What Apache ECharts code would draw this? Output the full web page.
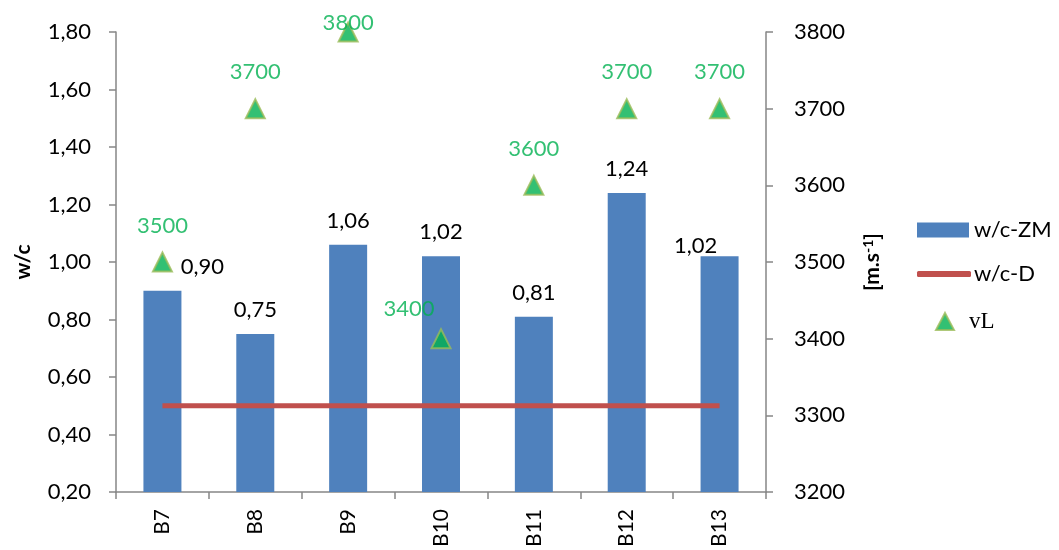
<!DOCTYPE html>
<html>
<head>
<meta charset="utf-8">
<script src="https://cdn.jsdelivr.net/npm/echarts@6/dist/echarts.min.js"></script>
<style>html,body{margin:0;padding:0;background:#fff}#c{width:1059px;height:550px}</style>
</head>
<body>
<div id="c"></div>
<script>
const categories = ['B7', 'B8', 'B9', 'B10', 'B11', 'B12', 'B13'];
const wcZM = [0.90, 0.75, 1.06, 1.02, 0.81, 1.24, 1.02];
const wcD = [0.50, 0.50, 0.50, 0.50, 0.50, 0.50, 0.50];
const vL = [3500, 3700, 3800, 3400, 3600, 3700, 3700];
const leftTicks = [0.2, 1.8, 0.2];   // min, max, interval
const rightTicks = [3200, 3800, 100];

const FONT = 'Lato';
const FS = 22;
const fmt = v => v.toFixed(2).replace('.', ',');

const barLabelOffsets = { 0: [40, 0], 6: [-24, 14] };
const vLLabelOffsets = { 2: [0, 27], 3: [-32, 7] };

const legendText = { fontSize: FS, color: '#000', fontFamily: FONT };

const chart = echarts.init(document.getElementById('c'));
chart.setOption({
  animation: false,
  textStyle: { fontFamily: FONT },
  grid: { left: 116, right: 293, top: 32, bottom: 58, containLabel: false },
  legend: [
    {
      orient: 'vertical', left: 912, top: 214,
      itemWidth: 52, itemHeight: 15,
      textStyle: Object.assign({ padding: [0, 0, 0, 0] }, legendText),
      data: [{ name: 'w/c-ZM', icon: 'rect' }]
    },
    {
      orient: 'vertical', left: 912, top: 258,
      itemWidth: 54, itemHeight: 6,
      textStyle: Object.assign({ padding: [0, 0, 0, -2] }, legendText),
      data: [{ name: 'w/c-D', icon: 'roundRect' }]
    },
    {
      orient: 'vertical', left: 930, top: 305,
      itemWidth: 18, itemHeight: 17,
      textStyle: { fontSize: 23, color: '#000', fontFamily: 'Liberation Serif', padding: [0, 0, 0, 10] },
      data: [{ name: 'vL', icon: 'triangle' }]
    }
  ],
  xAxis: {
    type: 'category',
    data: categories,
    boundaryGap: true,
    axisLine: { lineStyle: { color: '#868686', width: 1.5 } },
    axisTick: { show: true, alignWithLabel: false, length: 7, lineStyle: { color: '#868686', width: 1.5 } },
    axisLabel: { rotate: 90, fontSize: 21, color: '#000', margin: 17, fontFamily: FONT },
    splitLine: { show: false }
  },
  yAxis: [
    {
      type: 'value',
      min: leftTicks[0], max: leftTicks[1], interval: leftTicks[2],
      name: 'w/c',
      nameLocation: 'middle',
      nameRotate: 90,
      nameGap: 82,
      nameTextStyle: { fontSize: 21, fontWeight: 'bold', color: '#000', fontFamily: FONT },
      axisLine: { show: true, lineStyle: { color: '#868686', width: 1.5 } },
      axisTick: { show: true, length: 7, lineStyle: { color: '#868686', width: 1.5 } },
      axisLabel: { fontSize: FS, color: '#000', margin: 25, formatter: v => fmt(v), fontFamily: FONT },
      splitLine: { show: false }
    },
    {
      type: 'value',
      position: 'right',
      min: rightTicks[0], max: rightTicks[1], interval: rightTicks[2],
      name: '[m.s{sup|-1}]',
      nameLocation: 'middle',
      nameRotate: 90,
      nameGap: 95,
      nameTextStyle: {
        fontSize: 21, fontWeight: 'bold', color: '#000', fontFamily: FONT,
        rich: { sup: { fontSize: 14, fontWeight: 'bold', color: '#000', fontFamily: FONT, verticalAlign: 'top', lineHeight: 22, padding: [0, 0, 8, 0] } }
      },
      axisLine: { show: true, lineStyle: { color: '#868686', width: 1.5 } },
      axisTick: { show: true, length: 7, lineStyle: { color: '#868686', width: 1.5 } },
      axisLabel: { fontSize: FS, color: '#000', margin: 28, fontFamily: FONT, formatter: v => String(v) },
      splitLine: { show: false }
    }
  ],
  series: [
    {
      name: 'w/c-ZM',
      type: 'bar',
      yAxisIndex: 0,
      barWidth: 38,
      itemStyle: { color: '#4F81BD' },
      data: wcZM.map((v, i) => ({
        value: v,
        label: barLabelOffsets[i] ? { offset: barLabelOffsets[i] } : undefined
      })),
      label: {
        show: true, position: 'top', distance: 13,
        fontSize: FS, color: '#000', fontFamily: FONT,
        formatter: p => fmt(p.value)
      },
      z: 2
    },
    {
      name: 'w/c-D',
      type: 'line',
      yAxisIndex: 0,
      data: wcD,
      symbol: 'none',
      lineStyle: { color: '#C0504D', width: 5 },
      itemStyle: { color: '#C0504D' },
      z: 3
    },
    {
      name: 'vL',
      type: 'scatter',
      yAxisIndex: 1,
      symbol: 'triangle',
      symbolSize: 19,
      itemStyle: { color: '#00B050', borderColor: '#9BBB59', borderWidth: 2 },
      data: vL.map((v, i) => ({
        value: v,
        label: vLLabelOffsets[i] ? { offset: vLLabelOffsets[i] } : undefined
      })),
      label: {
        show: true, position: 'top', distance: 15,
        fontSize: FS, color: '#00B050', fontFamily: FONT,
        formatter: p => String(p.value)
      },
      z: 4
    }
  ]
});
</script>
</body>
</html>
